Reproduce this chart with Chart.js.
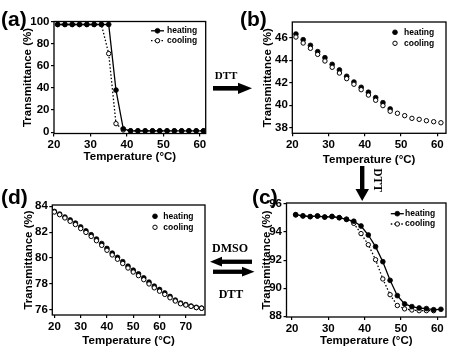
<!DOCTYPE html>
<html>
<head>
<meta charset="utf-8">
<script src="https://cdn.jsdelivr.net/npm/chart.js@4.4.1/dist/chart.umd.min.js"></script>
<style>
  html, body { margin: 0; padding: 0; background: #fff; }
  #wrap { position: relative; width: 451px; height: 354px; overflow: hidden; }
  canvas { position: absolute; }
  .t { position: absolute; transform: translate(-50%, -50%); white-space: nowrap; color: #000; line-height: 1; }
  .lbl { position: absolute; font: bold 21px "Liberation Sans", Arial, sans-serif; line-height: 21px; color: #000; white-space: nowrap; }
  .serif { font-family: "Liberation Serif", "Times New Roman", serif; font-weight: bold; }
  svg { position: absolute; left: 0; top: 0; }
</style>
</head>
<body>
<div id="wrap">
  <canvas id="chA" width="225" height="177" style="left:0;top:0"></canvas>
  <canvas id="chB" width="226" height="177" style="left:225px;top:0"></canvas>
  <canvas id="chD" width="225" height="177" style="left:0;top:177px"></canvas>
  <canvas id="chC" width="226" height="177" style="left:225px;top:177px"></canvas>

  <div class="lbl" style="left:1px;top:8px">(a)</div>
  <div class="lbl" style="left:240px;top:8px">(b)</div>
  <div class="lbl" style="left:1px;top:186px">(d)</div>
  <div class="lbl" style="left:252px;top:186px">(c)</div>

  <svg width="451" height="354">
    <!-- DTT a -> b -->
    <rect x="213" y="86" width="26" height="4.6" fill="#000"/>
    <polygon points="238,82.7 252,88.3 238,94" fill="#000"/>
    <!-- DTT b -> c -->
    <rect x="360" y="166" width="4.4" height="24" fill="#000"/>
    <polygon points="355.5,189 369,189 362.2,201" fill="#000"/>
    <!-- DMSO c -> d -->
    <rect x="221" y="259.6" width="31" height="4.3" fill="#000"/>
    <polygon points="210,261.7 222,256.8 222,266.6" fill="#000"/>
    <!-- DTT d -> c -->
    <rect x="213" y="269.6" width="30" height="4.3" fill="#000"/>
    <polygon points="242,266.8 254.5,271.7 242,276.6" fill="#000"/>
  </svg>

  <div class="t serif" style="left:226px;top:74.5px;font-size:11px">DTT</div>
  <div class="t serif" style="left:376.5px;top:180px;font-size:11.5px;transform:translate(-50%,-50%) rotate(90deg)">DTT</div>
  <div class="t serif" style="left:230px;top:247.5px;font-size:12px">DMSO</div>
  <div class="t serif" style="left:231px;top:294px;font-size:12px">DTT</div>
</div>

<script>
/* ── Datos ───────────────────────────────────── */
// (a) antes de DTT
const tempA = [21, 23, 25, 27, 29, 31, 33, 35, 37, 39, 41, 43, 45, 47, 49, 51, 53, 55, 57, 59, 61];
const heatA = [97.3, 97.3, 97.3, 97.3, 97.3, 97.3, 97.3, 97.3, 38, 3, 1.2, 1.2, 1.2, 1.2, 1.2, 1.2, 1.2, 1.2, 1.2, 1.2, 1.2];
const coolA = [97.3, 97.3, 97.3, 97.3, 97.3, 97.3, 97.3, 71, 7.7, 2, 1.2, 1.2, 1.2, 1.2, 1.2, 1.2, 1.2, 1.2, 1.2, 1.2, 1.2];

// (b)
const tempB = [21, 23, 25, 27, 29, 31, 33, 35, 37, 39, 41, 43, 45, 47, 49, 51, 53, 55, 57, 59, 61];
const heatB = [46.33, 45.82, 45.32, 44.76, 44.22, 43.63, 43.13, 42.57, 42.06, 41.59, 41.15, 40.67, 40.22, 39.66];
const coolB = [46.06, 45.53, 45.06, 44.52, 43.93, 43.37, 42.86, 42.36, 41.86, 41.38, 40.9, 40.44, 39.96, 39.46,
               39.28, 39.07, 38.83, 38.74, 38.62, 38.53, 38.44];

// (c)
const tempC = [21, 23, 25, 27, 29, 31, 33, 35, 37, 39, 41, 43, 45, 47, 49, 51, 53, 55, 57, 59, 61];
const heatC = [95.24, 95.15, 95.1, 95.15, 95.07, 95.1, 95.02, 94.9, 94.77, 94.43, 93.79, 92.96, 91.89, 90.56,
               89.47, 88.88, 88.69, 88.59, 88.55, 88.47, 88.5];
const coolC = [95.22, 95.15, 95.1, 95.13, 95.07, 95.12, 95.03, 94.92, 94.62, 93.89, 93.1, 92.03, 90.66, 89.54,
               88.77, 88.53, 88.45, 88.4, 88.4, 88.4];

// (d)
const tempD = [20, 22, 24, 26, 28, 30, 32, 34, 36, 38, 40, 42, 44, 46, 48, 50, 52, 54, 56, 58, 60, 62, 64, 66, 68, 70, 72, 74, 76];
const heatD = [83.6, 83.4, 83.17, 82.94, 82.7, 82.4, 82.1, 81.8, 81.47, 81.12, 80.74, 80.38, 80.05, 79.72, 79.37,
               79.06, 78.78, 78.47, 78.14, 77.83, 77.57, 77.3, 77.03, 76.75, 76.52, 76.4, 76.29, 76.19, 76.13];
const coolD = [83.56, 83.35, 83.1, 82.84, 82.59, 82.28, 81.98, 81.67, 81.34, 80.98, 80.6, 80.24, 79.91, 79.58, 79.23,
               78.92, 78.64, 78.33, 78.0, 77.7, 77.44, 77.19, 76.93, 76.68, 76.47, 76.37, 76.27, 76.17, 76.12];

// Ticks
const xTicksA = [20, 30, 40, 50, 60];
const yTicksA = [0, 20, 40, 60, 80, 100];
const xTicksB = [20, 30, 40, 50, 60];
const yTicksB = [38, 40, 42, 44, 46];
const xTicksC = [20, 30, 40, 50, 60];
const yTicksC = [88, 90, 92, 94, 96];
const xTicksD = [20, 30, 40, 50, 60, 70];
const yTicksD = [76, 78, 80, 82, 84];

/* ── Utilidades ──────────────────────────────── */
const FONT = '"Liberation Sans", Arial, sans-serif';
const pts = (xs, ys) => ys.map((y, i) => ({ x: xs[i], y }));

function heating(data, line) {
  return {
    label: "heating", data, showLine: line,
    borderColor: "#000", backgroundColor: "#000", borderWidth: 1.3,
    pointRadius: 2.4, pointBackgroundColor: "#000", pointBorderColor: "#000", pointBorderWidth: 0.8,
  };
}
function cooling(data, line) {
  return {
    label: "cooling", data, showLine: line,
    borderColor: "#000", backgroundColor: "#fff", borderWidth: 1.3, borderDash: [1.5, 2],
    pointRadius: 2.2, pointBackgroundColor: "#fff", pointBorderColor: "#000", pointBorderWidth: 1,
  };
}

/* Marco completo alrededor del área */
const framePlugin = {
  id: "frame",
  beforeDatasetsDraw(chart) {
    const { ctx, chartArea: a } = chart;
    ctx.save();
    ctx.strokeStyle = "#000";
    ctx.lineWidth = 1.3;
    ctx.strokeRect(a.left, a.top, a.right - a.left, a.bottom - a.top);
    ctx.restore();
  },
};

/* Leyenda dentro del gráfico */
const keyPlugin = {
  id: "key",
  afterDatasetsDraw(chart, args, opts) {
    const ctx = chart.ctx;
    ctx.save();
    ctx.font = "bold 8.5px " + FONT;
    ctx.textBaseline = "middle";
    chart.data.datasets.forEach((ds, i) => {
      const y = opts.rows[i];
      const x = opts.x;
      if (ds.showLine) {
        ctx.beginPath();
        ctx.setLineDash(ds.borderDash || []);
        ctx.lineWidth = ds.borderWidth;
        ctx.strokeStyle = ds.borderColor;
        ctx.moveTo(x - 6.5, y);
        ctx.lineTo(x + 6.5, y);
        ctx.stroke();
        ctx.setLineDash([]);
      }
      ctx.beginPath();
      ctx.arc(x, y, ds.pointRadius, 0, Math.PI * 2);
      ctx.fillStyle = ds.pointBackgroundColor;
      ctx.fill();
      ctx.lineWidth = ds.pointBorderWidth;
      ctx.strokeStyle = ds.pointBorderColor;
      ctx.stroke();
      ctx.fillStyle = "#000";
      ctx.fillText(ds.label, opts.textX, y);
    });
    ctx.restore();
  },
};

function makeChart(id, datasets, o) {
  const tickFont = { family: FONT, size: 11.5, weight: "bold" };
  const titleFont = { family: FONT, size: 11.5, weight: "bold" };
  return new Chart(document.getElementById(id), {
    type: "scatter",
    data: { datasets },
    plugins: [framePlugin, keyPlugin],
    options: {
      responsive: false,
      devicePixelRatio: 1,
      animation: false,
      layout: { padding: { left: 0, top: o.top, right: o.right, bottom: 0 } },
      scales: {
        x: {
          type: "linear", min: o.xMin, max: o.xMax,
          afterBuildTicks: (s) => { s.ticks = o.xTicks.map((v) => ({ value: v })); },
          afterFit: (s) => { s.height = o.xH; },
          grid: { drawOnChartArea: false, tickLength: 3, color: "#000", lineWidth: 1.2 },
          border: { display: false },
          ticks: { color: "#000", font: tickFont, padding: 1.5, autoSkip: false, maxRotation: 0 },
          title: { display: true, text: "Temperature (°C)", color: "#000", font: titleFont,
                   padding: { top: 0, bottom: o.xTitlePad } },
        },
        y: {
          type: "linear", min: o.yMin, max: o.yMax,
          afterBuildTicks: (s) => { s.ticks = o.yTicks.map((v) => ({ value: v })); },
          afterFit: (s) => { s.width = o.yW; },
          grid: { drawOnChartArea: false, tickLength: 3, color: "#000", lineWidth: 1.2 },
          border: { display: false },
          ticks: { color: "#000", font: tickFont, padding: 1.5, autoSkip: false },
          title: { display: true, text: "Transmittance (%)", color: "#000", font: titleFont,
                   padding: { top: o.yTitlePad, bottom: 0 } },
        },
      },
      plugins: {
        legend: { display: false },
        tooltip: { enabled: false },
        key: { x: o.keyX, textX: o.keyTextX, rows: o.keyRows },
      },
    },
  });
}

/* ── (a) ─────────────────────────────────────── */
makeChart("chA", [heating(pts(tempA, heatA), true), cooling(pts(tempA, coolA), true)], {
  top: 21.5, right: 19.3, yW: 54, xH: 43.5,
  xMin: 20, xMax: 61.6, yMin: -1.2, yMax: 100,
  xTicks: xTicksA, yTicks: yTicksA, yTitlePad: 21.1, xTitlePad: 12.8,
  keyX: 157.5, keyTextX: 167, keyRows: [30.8, 40.7],
});

/* ── (b) ─────────────────────────────────────── */
makeChart("chB", [Object.assign(heating(pts(tempB, heatB), false), { order: 1 }),
                  Object.assign(cooling(pts(tempB, coolB), false), { order: 0 })], {
  top: 22, right: 5, yW: 67.3, xH: 43.7,
  xMin: 20, xMax: 62.4, yMin: 37.5, yMax: 47.4,
  xTicks: xTicksB, yTicks: yTicksB, yTitlePad: 35.6, xTitlePad: 10.1,
  keyX: 170, keyTextX: 179, keyRows: [32.3, 43.3],
});

/* ── (c) ─────────────────────────────────────── */
makeChart("chC", [heating(pts(tempC, heatC), true), cooling(pts(tempC, coolC), true)], {
  top: 26, right: 5, yW: 61.5, xH: 37,
  xMin: 18.47, xMax: 62.4, yMin: 87.95, yMax: 96.07,
  xTicks: xTicksC, yTicks: yTicksC, yTitlePad: 34.6, xTitlePad: 6.1,
  keyX: 172.3, keyTextX: 180, keyRows: [36.7, 47],
});

/* ── (d) ─────────────────────────────────────── */
makeChart("chD", [Object.assign(heating(pts(tempD, heatD), false), { order: 1 }),
                  Object.assign(cooling(pts(tempD, coolD), false), { order: 0 })], {
  top: 28, right: 20, yW: 52.3, xH: 39,
  xMin: 19.2, xMax: 77.3, yMin: 75.6, yMax: 84.1,
  xTicks: xTicksD, yTicks: yTicksD, yTitlePad: 21.6, xTitlePad: 6.6,
  keyX: 155, keyTextX: 163.3, keyRows: [39.3, 50.3],
});
</script>
</body>
</html>
